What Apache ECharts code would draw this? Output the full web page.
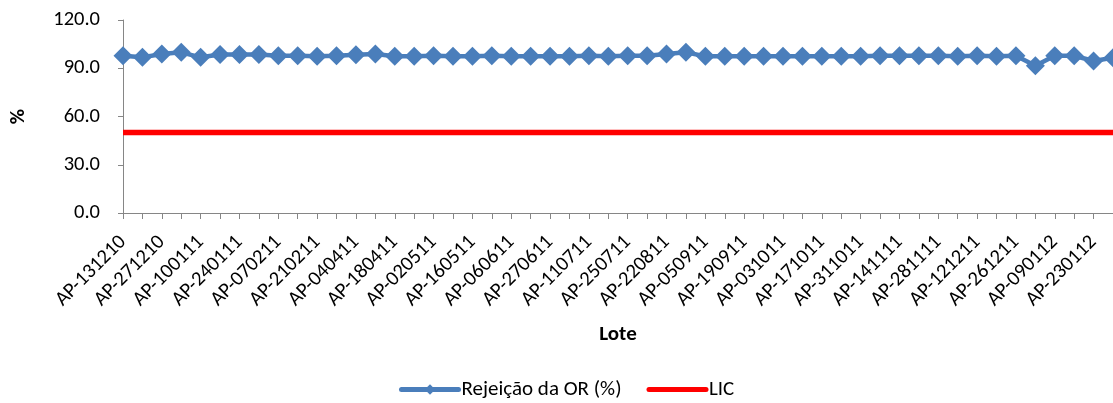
<!DOCTYPE html>
<html>
<head>
<meta charset="utf-8">
<script src="https://cdn.jsdelivr.net/npm/echarts@6/dist/echarts.min.js"></script>
<style>html,body{margin:0;padding:0;background:#fff;}#c{width:1113px;height:403px;}</style>
</head>
<body>
<div id="c"></div>
<script>
const categories = [
  'AP-131210','AP-201210','AP-271210','AP-030111','AP-100111','AP-170111','AP-240111','AP-310111',
  'AP-070211','AP-140211','AP-210211','AP-280211','AP-040411','AP-110411','AP-180411','AP-250411',
  'AP-020511','AP-090511','AP-160511','AP-300511','AP-060611','AP-130611','AP-270611','AP-040711',
  'AP-110711','AP-180711','AP-250711','AP-080811','AP-220811','AP-290811','AP-050911','AP-120911',
  'AP-190911','AP-260911','AP-031011','AP-101011','AP-171011','AP-241011','AP-311011','AP-071111',
  'AP-141111','AP-211111','AP-281111','AP-051211','AP-121211','AP-191211','AP-261211','AP-020112',
  'AP-090112','AP-160112','AP-230112','AP-300112'
];
const rejeicao = [
  97.8, 96.8, 98.8, 99.9, 96.8, 98.5, 98.5, 98.5,
  97.8, 97.8, 97.4, 97.8, 98.4, 98.8, 97.4, 97.4,
  97.8, 97.4, 97.4, 97.8, 97.4, 97.4, 97.4, 97.4,
  97.8, 97.4, 97.8, 97.8, 98.8, 99.9, 97.4, 97.4,
  97.4, 97.4, 97.4, 97.4, 97.4, 97.4, 97.4, 97.8,
  97.8, 97.8, 97.8, 97.4, 97.8, 97.4, 97.8, 91.6,
  97.8, 97.8, 94.5, 96.6
];
const lic = [
  50, 50, 50, 50, 50, 50, 50, 50, 50, 50, 50, 50, 50,
  50, 50, 50, 50, 50, 50, 50, 50, 50, 50, 50, 50, 50,
  50, 50, 50, 50, 50, 50, 50, 50, 50, 50, 50, 50, 50,
  50, 50, 50, 50, 50, 50, 50, 50, 50, 50, 50, 50, 50
];
const yTicks = [0, 30, 60, 90, 120];

const FONT = 'Carlito, Calibri, Lato, "Liberation Sans", sans-serif';
const chart = echarts.init(document.getElementById('c'), null, {renderer: 'canvas'});
chart.setOption({
  animation: false,
  backgroundColor: '#ffffff',
  textStyle: {fontFamily: FONT, color: '#000'},
  grid: {left: 118, top: 20, bottom: 190, right: -1, containLabel: false},
  legend: {
    top: 374,
    left: 394,
    itemWidth: 57,
    itemHeight: 13,
    itemGap: 25,
    textStyle: {fontFamily: FONT, fontSize: 21, color: '#000', padding: [0, 0, 0, -2]},
    lineStyle: {width: 5, cap: 'round'},
    data: [
      {name: 'Rejeição da OR (%)'},
      {name: 'LIC', itemStyle: {opacity: 0}}
    ]
  },
  xAxis: {
    type: 'category',
    data: categories,
    boundaryGap: false,
    name: 'Lote',
    nameLocation: 'middle',
    nameGap: 111,
    nameTextStyle: {fontFamily: FONT, fontSize: 21, fontWeight: 'bold', color: '#000'},
    axisLine: {lineStyle: {color: '#868686', width: 1}},
    axisTick: {show: true, interval: 0, length: 6, lineStyle: {color: '#868686'}},
    axisLabel: {interval: 1, rotate: 45, fontSize: 20.5, color: '#000', fontFamily: FONT, margin: 26},
    splitLine: {show: false}
  },
  yAxis: {
    type: 'value',
    min: yTicks[0],
    max: yTicks[yTicks.length - 1],
    interval: 30,
    name: '%',
    nameLocation: 'middle',
    nameGap: 94,
    nameRotate: 90,
    nameTextStyle: {fontFamily: FONT, fontSize: 21, fontWeight: 'bold', color: '#000'},
    axisLine: {show: true, lineStyle: {color: '#868686', width: 1}},
    axisTick: {show: true, length: 5, lineStyle: {color: '#868686'}},
    axisLabel: {fontSize: 20.5, color: '#000', fontFamily: FONT, margin: 23,
      formatter: v => v.toFixed(1)},
    splitLine: {show: false}
  },
  series: [
    {
      name: 'Rejeição da OR (%)',
      type: 'line',
      data: rejeicao,
      color: '#4A7EBB',
      symbol: 'diamond',
      symbolSize: 19,
      showAllSymbol: true,
      lineStyle: {width: 4.5, color: '#4A7EBB'},
      itemStyle: {color: '#4A7EBB'},
      z: 3
    },
    {
      name: 'LIC',
      type: 'line',
      data: lic,
      color: '#FF0000',
      symbol: 'none',
      lineStyle: {width: 5.5, color: '#FF0000'},
      itemStyle: {color: '#FF0000'},
      z: 2
    }
  ]
});
</script>
</body>
</html>
